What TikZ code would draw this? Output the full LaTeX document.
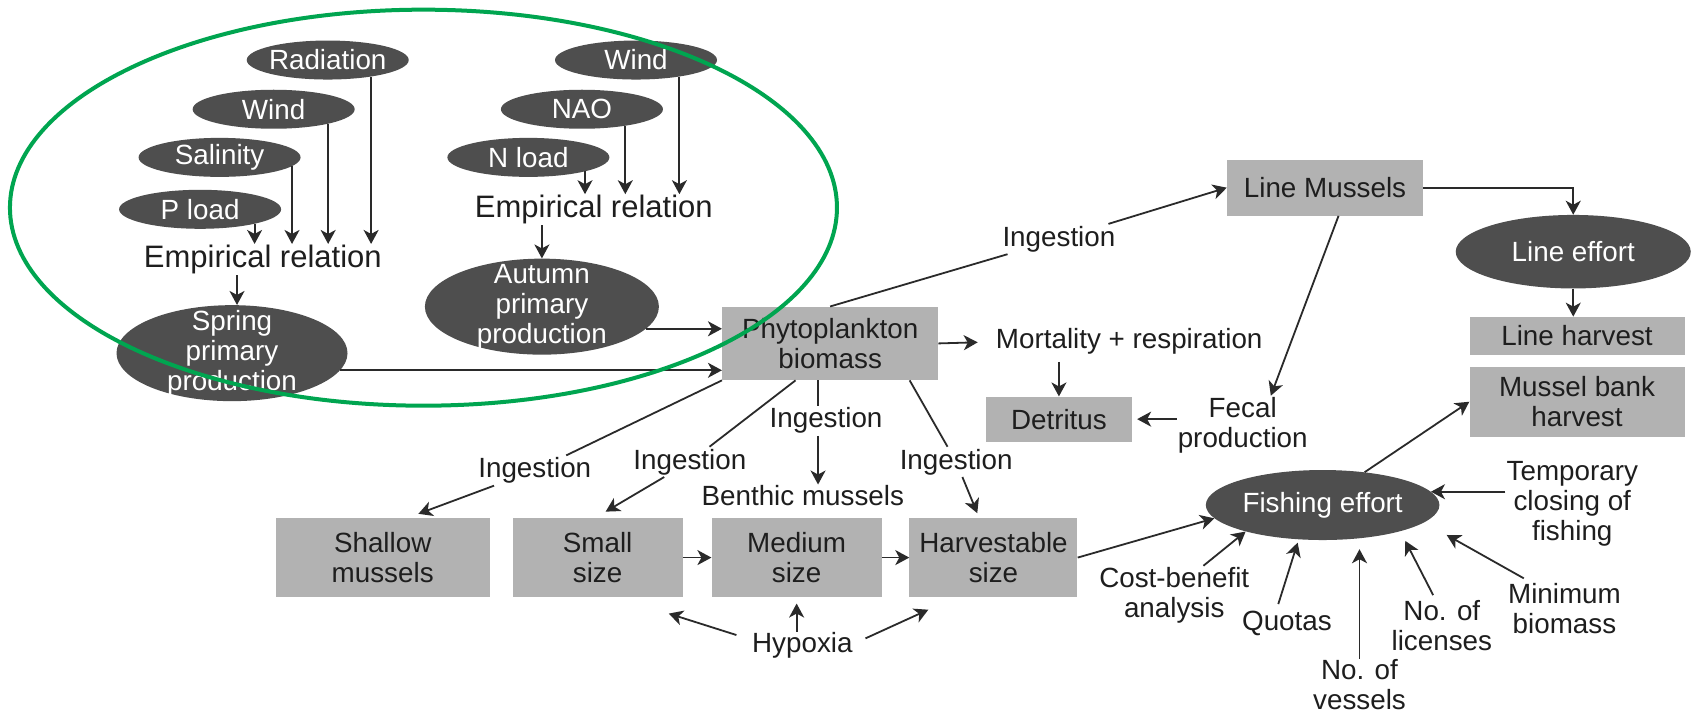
\documentclass[tikz,border=0pt]{standalone}
\usepackage{fontspec}
\setmainfont{Liberation Sans}
\usetikzlibrary{shapes.geometric,arrows.meta,calc}
\definecolor{darkfill}{HTML}{4E4E4E}
\definecolor{boxfill}{HTML}{B2B2B2}
\definecolor{ink}{HTML}{1E1E1E}
\definecolor{wire}{HTML}{2A2A2A}
\definecolor{ringgreen}{HTML}{00A550}

\begin{document}
\begin{tikzpicture}[x=1.0816pt,y=-1.0816pt,
  every node/.style={font=\fontsize{27.8}{30}\selectfont, text=ink, align=center, inner sep=1pt},
  dark/.style={ellipse, fill=darkfill, text=white, inner sep=-4pt},
  smallell/.style={dark, minimum width=162pt, minimum height=39pt},
  bigell/.style={dark, inner ysep=-22pt, minimum width=231pt, minimum height=96pt},
  gbox/.style={rectangle, fill=boxfill, inner sep=0pt},
  lbl/.style={inner sep=2pt},
  emp/.style={font=\fontsize{31}{34}\selectfont, inner sep=1pt},
  ln/.style={draw=wire, line width=1.8pt},
  arr/.style={ln, -{Stealth[length=14pt,width=15pt,inset=4pt]}},
]
\fill[white] (0,0) rectangle (1568,661);
\useasboundingbox (0,0) rectangle (1568,661);

% spring drivers
\node[smallell] (rad) at (303,55.5) {Radiation};
\node[smallell] (windl) at (253,101) {Wind};
\node[smallell] (sal) at (203,145.5) {Salinity};
\node[smallell] (pload) at (185,193.5) {P load};
\node[emp] (empl) at (243,240) {Empirical relation};
\node[bigell] (spring) at (214.5,326.5) {Spring\\primary\\production};

% autumn drivers
\node[smallell] (windr) at (588,55.5) {Wind};
\node[smallell] (nao) at (538,101) {NAO};
\node[smallell] (nload) at (488.5,145.5) {N load};
\node[emp] (empr) at (549,194) {Empirical relation};
\node[bigell, minimum width=234pt] (autumn) at (501,283.5) {Autumn\\primary\\production};

% boxes
\node[gbox, minimum width=216pt, minimum height=73.5pt] (phyto) at (767.5,317.5) {Phytoplankton\\biomass};
\node[gbox, minimum width=196pt, minimum height=56pt] (lm) at (1225,173.5) {Line Mussels};
\node[dark, minimum width=235pt, minimum height=73.5pt] (le) at (1454.5,232.7) {Line effort};
\node[gbox, minimum width=215pt, minimum height=38pt] (lh) at (1458,310.5) {Line harvest};
\node[gbox, minimum width=215pt, minimum height=70pt] (mbh) at (1458,371.4) {Mussel bank\\harvest};
\node[gbox, minimum width=146pt, minimum height=45pt] (det) at (979,387.5) {Detritus};
\node[gbox, minimum width=214pt, minimum height=78.5pt] (shallow) at (353.8,515.5) {Shallow\\mussels};
\node[gbox, minimum width=170pt, minimum height=78.5pt] (small) at (552.5,515.5) {Small\\size};
\node[gbox, minimum width=170pt, minimum height=78.5pt] (med) at (736.5,515.5) {Medium\\size};
\node[gbox, minimum width=168pt, minimum height=78.5pt] (harv) at (918.5,515.5) {Harvestable\\size};
\node[dark, minimum width=233.6pt, minimum height=70pt] (fe) at (1222.8,466.9) {Fishing effort};

% plain labels
\node[lbl] (ing0) at (979,221) {Ingestion};
\node[lbl] (ing1) at (494.4,435) {Ingestion};
\node[lbl] (ing2) at (637.8,427) {Ingestion};
\node[lbl] (ing3) at (763.7,389) {Ingestion};
\node[lbl] (ing4) at (884,427) {Ingestion};
\node (benthic) at (742.2,458.5) {Benthic mussels};
\node (hyp) at (741.8,597) {Hypoxia};
\node (mort) at (1044,316) {Mortality + respiration};
\node (fecal) at (1148.9,392.8) {Fecal\\production};
\node (temp) at (1453.6,465.4) {Temporary\\closing of\\fishing};
\node (cost) at (1085.6,550) {Cost-benefit\\analysis};
\node (quotas) at (1189.8,576) {Quotas};
\node (vessels) at (1256.9,633.3) {No. of\\vessels};
\node (lic) at (1333,578.6) {No. of\\licenses};
\node (minb) at (1446.4,562.4) {Minimum\\biomass};

% drivers into the empirical relations
\draw[arr] (pload.-15) -- (pload.-15 |- empl.north);
\draw[arr] (sal.-7) -- (sal.-7 |- empl.north);
\draw[arr] (windl.-15) -- (windl.-15 |- empl.north);
\draw[arr] (rad.-21) -- (rad.-21 |- empl.north);
\draw[arr] (nload.-14) -- (nload.-14 |- empr.north);
\draw[arr] (nao.-21) -- (nao.-21 |- empr.north);
\draw[arr] (windr.-21) -- (windr.-21 |- empr.north);
\draw[arr] ([xshift=5pt]empl.south -| spring.north) -- ([xshift=5pt]spring.north);
\draw[arr] (empr.south -| autumn.north) -- (autumn.north);

% production into phytoplankton
\draw[arr] (autumn.-12) -- (autumn.-12 -| phyto.west);
\draw[arr] (spring.-9) -- (spring.-9 -| phyto.west);

% ingestion paths
\draw[ln] (phyto.north) -- (ing0);
\draw[arr] (ing0) -- (lm.west);
\draw[ln] (phyto.south west) -- (ing1);
\draw[arr] (ing1) -- ($(shallow.north)+(33,-4)$);
\draw[ln] ($(phyto.south)+(-32,0)$) -- (ing2);
\draw[arr] (ing2) -- ($(small.north)+(7.4,-6)$);
\draw[ln] ([xshift=-8pt]ing3.north) -- ([xshift=-8pt]ing3.north |- phyto.south);
\draw[arr] ([xshift=-8pt]ing3.south) -- ([xshift=-8pt]ing3.south |- benthic.north);
\draw[ln] ($(phyto.south)+(73.5,0)$) -- (ing4);
\draw[arr] (ing4) -- ($(harv.north)+(-15,-4.6)$);

% size classes
\draw[arr] (small.east) -- (med.west);
\draw[arr] (med.east) -- (harv.west);

% losses
\draw[arr, shorten >=17pt] (phyto.east) -- (mort.west);
\draw[arr, shorten <=6pt] (mort.south -| det.north) -- (det.north);
\draw[arr, shorten >=5pt] (det.east -| fecal.west) -- (det.east);
\draw[arr] ($(lm.south)+(12.5,0)$) -- ($(fecal.north)+(26,0)$);

% line culture
\draw[arr] (lm.east) -| (le.north);
\draw[arr] (le.south) -- (le.south |- lh.north);

% fishing effort
\draw[arr] (fe.38) -- (mbh.west);
\draw[arr] (harv.east) -- (fe.187);
\draw[arr] (temp.west |- fe.7) -- (fe.7);
\draw[arr] ($(cost.north)+(27,0)$) -- (fe.199);
\draw[arr] ($(quotas.north)+(-8,-5)$) -- ($(fe.234)+(0,3)$);
\draw[arr, shorten >=9pt] (vessels.north) -- (vessels.north |- fe.south);
\draw[arr] ($(lic.north)+(-8,-4)$) -- ($(fe.south)+(76.4,0.6)$);
\draw[arr] ($(minb.north)+(-37.6,-3.3)$) -- ($(fe.east)+(6.5,27.7)$);

% hypoxia
\draw[arr] ($(hyp.west)+(-13.4,-9.9)$) -- ($(small.south east)+(-13,15.3)$);
\draw[arr] (hyp.north -| med.south) -- ($(med.south)+(0,6)$);
\draw[arr] ($(hyp.east)+(10.8,-6.8)$) -- ($(harv.south west)+(17.6,11.7)$);

% highlighted primary production group
\node[ellipse, draw=ringgreen, line width=4pt, inner sep=0pt, minimum width=827pt, minimum height=396pt] (ring) at (391.5,192) {};
\end{tikzpicture}
\end{document}
